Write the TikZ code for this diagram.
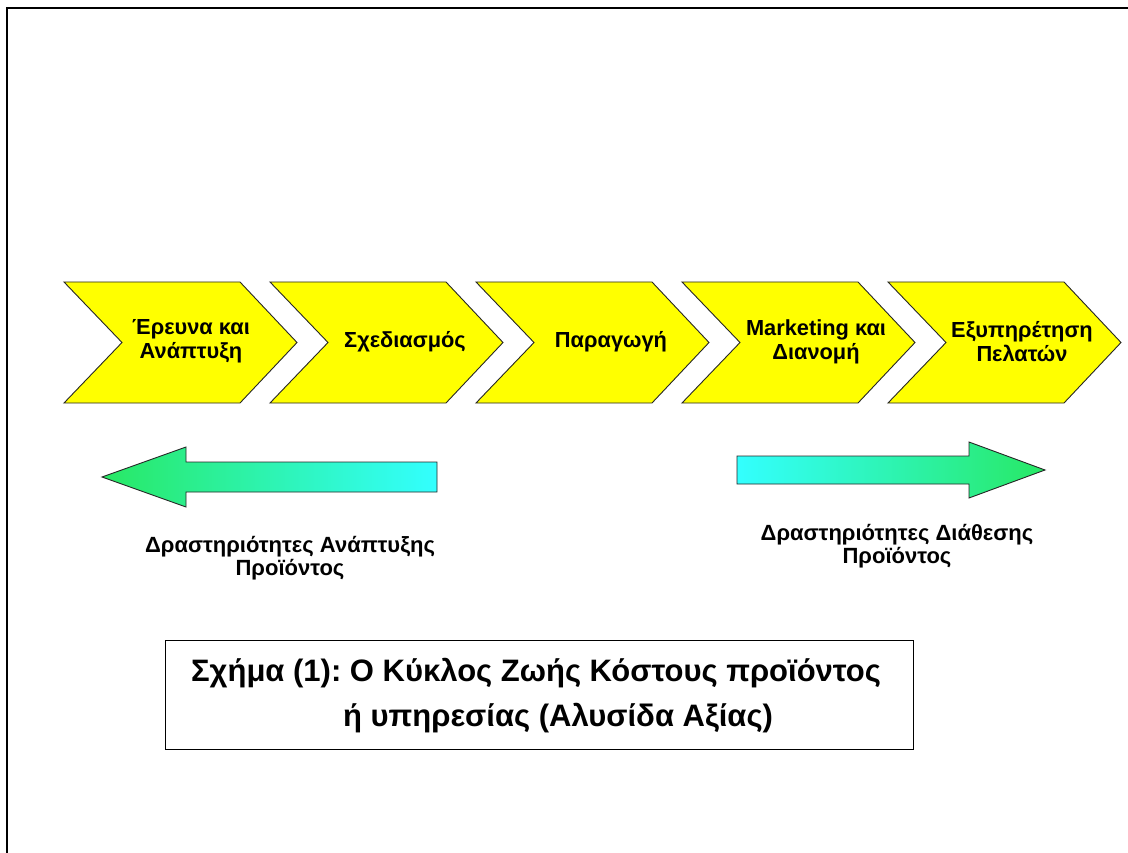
\documentclass[tikz,border=0pt]{standalone}
\usepackage{fontspec}
\setmainfont{Liberation Sans}
\frenchspacing
\begin{document}
\begin{tikzpicture}[x=1pt,y=-1pt,
  chev/.style={draw=black!85,line width=0.9pt,fill={rgb,255:red,255;green,255;blue,0},line join=miter},
  chevtext/.style={align=center,font=\fontsize{21.8}{24}\selectfont\bfseries,inner sep=0pt},
  flow/.style={draw=black!85,line width=0.9pt},
  flowtext/.style={align=center,font=\fontsize{22}{23}\selectfont\bfseries,inner sep=0pt},
  captext/.style={font=\fontsize{31}{36}\selectfont\bfseries,inner sep=0pt,anchor=base}]
\useasboundingbox (0,0) rectangle (1128,853);
\fill[white] (0,0) rectangle (1128,853);
% outer frame
\draw[line width=2.2pt] (7,853) -- (7,8) -- (1128,8);
% value chain chevrons
\foreach \x/\dx/\n/\t in {64/127/c1/{Έρευνα και\\Ανάπτυξη},270/135/c2/{Σχεδιασμός},476/135/c3/{Παραγωγή},682/134/c4/{Marketing και\\Διανομή},888/134/c5/{Εξυπηρέτηση\\Πελατών}}{
  \draw[chev] (\x,282) -- ++(176,0) -- ++(57,60.5) -- ++(-57,60.5) -- ++(-176,0) -- ++(58,-60.5) -- cycle;
  \node[chevtext] (\n) at (\x+\dx,341.5) {\t};
}
% development activities (pointing left)
\path[flow,left color={rgb,255:red,40;green,232;blue,100},right color={rgb,255:red,51;green,255;blue,255}]
  (102,477) -- (186,447) -- (186,462) -- (437,462) -- (437,492) -- (186,492) -- (186,507) -- cycle;
% distribution activities (pointing right)
\path[flow,left color={rgb,255:red,51;green,255;blue,255},right color={rgb,255:red,40;green,232;blue,100}]
  (1045,470) -- (969,442) -- (969,456) -- (737,456) -- (737,484) -- (969,484) -- (969,498) -- cycle;
\node[flowtext] (dev) at (290,558.5) {Δραστηριότητες Ανάπτυξης\\Προϊόντος};
\node[flowtext] (dist) at (897,546.5) {Δραστηριότητες Διάθεσης\\Προϊόντος};
% caption box
\draw[line width=1pt] (165,640) rectangle (913,749);
\node[captext] (cap1) at (536,681) {Σχήμα (1): Ο Κύκλος Ζωής Κόστους προϊόντος};
\node[captext] (cap2) at (558,726) {ή υπηρεσίας (Αλυσίδα Αξίας)};
\end{tikzpicture}
\end{document}
